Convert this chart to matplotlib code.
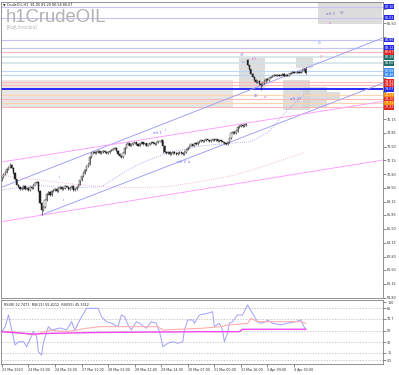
import numpy as np
import matplotlib
matplotlib.use('Agg')
import matplotlib.pyplot as plt
import matplotlib.patches as patches
import matplotlib.transforms as mtransforms

# ---- data ----
# hourly closes, bar 0 .. 183 (gap up on bar 148, Sunday open)
closes = [
    70.5, 70.8, 71.0, 71.3, 71.5, 71.7, 71.4, 70.9,
    70.3, 69.8, 69.6, 69.4, 69.5, 69.7, 69.4, 69.5,
    69.3, 69.6, 69.5, 69.8, 70.0, 70.1, 69.2, 68.0,
    67.3, 67.6, 68.3, 68.9, 69.1, 68.8, 69.2, 69.3,
    69.4, 69.2, 69.5, 69.6, 69.4, 69.5, 69.7, 69.6,
    69.4, 69.5, 69.7, 69.3, 69.4, 69.6, 69.8, 70.2,
    70.6, 70.9, 71.2, 71.6, 71.8, 72.5, 72.9, 73.0,
    72.9, 73.0, 73.1, 72.9, 73.0, 73.1, 73.0, 72.9,
    73.0, 73.1, 73.2, 73.3, 73.4, 73.1, 72.8, 72.6,
    72.5, 72.9, 73.4, 73.7, 73.8, 73.6, 73.7, 73.8,
    73.9, 73.7, 73.6, 73.8, 73.9, 73.7, 73.8, 73.6,
    73.7, 73.8, 73.9, 73.8, 73.7, 73.9, 74.0, 74.0,
    74.1, 73.6, 73.0, 72.9, 73.0, 72.8, 72.9, 73.0,
    72.9, 72.8, 72.9, 73.0, 72.9, 72.8, 73.0, 73.2,
    73.4, 73.6, 73.7, 73.6, 73.8, 73.7, 73.9, 74.0,
    74.1, 74.0, 74.1, 74.2, 74.1, 74.0, 74.1, 74.2,
    74.1, 74.2, 74.0, 74.1, 74.0, 73.9, 73.8, 73.7,
    73.9, 74.3, 74.8, 74.9, 74.8, 75.0, 75.4, 75.5,
    75.6, 75.5, 75.6, 75.7,
    81.4, 81.0, 80.6, 80.3, 80.0, 79.8, 79.9, 79.6,
    79.5, 79.7, 79.9, 80.1, 80.0, 80.2, 80.3, 80.4,
    80.5, 80.4, 80.5, 80.4, 80.5, 80.6, 80.4, 80.5,
    80.4, 80.6, 80.7, 80.8, 80.7, 80.7, 80.8, 80.7,
    80.8, 80.9, 81.05, 80.67,
]
first_open = 70.2
gap_bar = 148
gap_open = 81.9
wick_highs = {5: 71.9, 148: 82.0, 183: 81.20}
wick_lows = {24: 66.8, 97: 72.9, 156: 79.0, 183: 80.58}

# horizontal levels (price, type)
level_prices = [87.10, 86.03, 83.86, 83.12, 82.67, 82.18, 81.60, 80.88,
                80.46, 79.81, 79.49, 79.07, 78.51, 78.10, 77.71, 77.32]
level_types = ['blue', 'blue', 'blue', 'blue', 'red', 'teal', 'teal', 'azure',
               'azure', 'red', 'red', 'boldblue', 'orange', 'red', 'orange', 'red']

# channel lines: (bar0, price0, bar1, price1)
blue_lines = [(0, 69.55, 230, 84.1), (23, 66.8, 230, 79.7)]
pink_lines = [(0, 72.0, 230, 77.9), (0, 66.2, 230, 72.2)]

# moving averages (bar, price)
ma_fast_x = [0, 20, 40, 60, 76, 84, 100, 120, 140, 150, 161, 172, 182]
ma_fast_y = [69.27, 69.76, 69.47, 69.6, 71.22, 71.9, 72.9, 73.56, 73.85, 73.97, 74.94, 77.05, 78.5]
ma_slow_x = [0, 20, 40, 60, 80, 100, 120, 140, 160, 182]
ma_slow_y = [70.7, 70.3, 69.9, 69.6, 69.5, 69.6, 70.1, 70.7, 71.7, 72.9]

# shaded boxes (bar0, bar1, price_low, price_high)
boxes = [(190.5, 229, 85.42, 87.56), (142.9, 158.6, 79.0, 82.11),
         (177.2, 187.5, 81.14, 82.21), (169.4, 185.7, 77.05, 79.97),
         (181.4, 196, 77.35, 79.29), (196, 203.8, 78.03, 78.8)]
band = (-1, 139.3, 77.25, 79.97)

# wave labels (bar, price, text, colour type)
wave_labels = [
    (94, 74.8, 'alt 1', 'b'), (99, 75.1, 'ii', 'b'),
    (108, 72.0, 'alt 2', 'b'), (113, 72.0, 'iv', 'b'),
    (34.5, 70.5, 'i', 'b'), (37.5, 68.3, 'ii', 'b'),
    (144.7, 82.4, '3?', 'b'), (152, 82.0, 'iii?', 'm'), (145.3, 81.7, 'v', 'b'),
    (153.5, 78.4, '4?', 'b'), (158.6, 78.35, 'iv', 'm'),
    (177, 78.1, 'alt 4?', 'b'),
    (191, 83.6, '0', 'b'), (192, 82.24, '0', 's'),
    (198, 86.4, 'alt 3', 'g'), (205, 86.5, '5?', 'g'), (197.7, 85.55, 'v', 'm'),
]

price_ticks = [58.80, 60.15, 61.50, 62.80, 64.15, 65.50, 66.85, 68.15, 69.50, 70.80,
               72.15, 73.50, 74.85, 76.15, 77.50, 78.85, 80.20, 81.50, 82.85, 84.20,
               85.50, 86.85]

time_ticks = [0, 16, 32, 48, 64, 80, 96, 112, 128, 144, 160, 176]
time_labels = ['23 Mar 2023', '24 Mar 03:00', '24 Mar 19:00', '27 Mar 11:00',
               '28 Mar 03:00', '28 Mar 22:00', '29 Mar 14:00', '30 Mar 07:00',
               '31 Mar 00:00', '31 Mar 16:00', '3 Apr 09:00', '4 Apr 02:00']

# RSI lines (bar, value)
rsi8_x = [0, 2, 4, 6, 8, 10, 13, 15, 19, 21, 22, 24, 25, 28, 30, 35, 39, 42, 44, 47,
          51, 55, 58, 60, 63, 66, 70, 72, 74, 76, 78, 81, 83, 87, 90, 93, 95, 97, 100,
          103, 106, 109, 110, 112, 115, 116, 119, 124, 127, 128, 131, 133, 134, 136,
          137, 139, 142, 145, 147, 148, 151, 154, 156, 159, 160, 163, 168, 172, 177,
          180, 182, 183]
rsi8_y = [48.2, 57.1, 77.7, 51.2, 24.8, 30.6, 30.6, 21.8, 48.2, 39.4, 13.0, 7.1, 28.3,
          57.1, 51.2, 54.8, 51.2, 65.9, 51.2, 68.9, 89.5, 89.5, 89.5, 74.7, 65.9, 63.1,
          57.1, 77.7, 74.7, 60.1, 51.2, 65.9, 63.1, 54.2, 65.9, 63.1, 48.2, 21.8, 27.8,
          30.6, 27.8, 30.6, 51.2, 68.9, 68.9, 63.1, 77.7, 80.7, 83.5, 57.1, 63.1, 51.2,
          30.6, 45.4, 63.1, 65.9, 77.7, 77.7, 89.5, 95.3, 80.7, 65.9, 63.1, 65.9, 68.9,
          63.1, 60.1, 63.1, 65.9, 68.9, 57.1, 52.7]
rsi21_x = [0, 7, 19, 29, 39, 51, 59, 79, 94, 97, 120, 132, 136, 148, 150, 154, 180, 183]
rsi21_y = [48.2, 48.2, 42.4, 51.2, 48.2, 54.2, 57.1, 57.1, 57.1, 51.2, 54.2, 57.1, 60.0,
           62.9, 71.7, 65.9, 65.9, 63.1]
rsi55_x = [0, 19, 29, 59, 119, 143, 145, 183]
rsi55_y = [48.2, 44.1, 45.3, 46.9, 48.2, 48.2, 52.5, 52.5]
rsi_levels = [100, 89.5, 70.7, 50, 30, 11.5, -2.5]
rsi_level_labels = ['100', '85', '70.7', '50', '30', '15', '2.5']

# ---- styles ----
line_col = {'blue': '#c4c4f4', 'red': '#ffb8b8', 'teal': '#d0e2e6', 'azure': '#bdd6f4',
            'orange': '#ffd3ad', 'boldblue': '#1a1aff'}
line_lw = {'blue': 0.8, 'red': 0.8, 'teal': 1.1, 'azure': 0.8, 'orange': 0.8, 'boldblue': 1.3}
box_col = {'blue': '#2a2ae6', 'red': '#e52626', 'teal': '#1f6e6e', 'azure': '#3d8ef0',
           'orange': '#ff8c00', 'boldblue': '#2a2ae6'}
txt_col = {'b': '#7474f0', 'm': '#e060e0', 's': '#f08a8a', 'g': '#7878c4'}
small = 2.4

fig = plt.figure(figsize=(3.99, 3.75), dpi=100)
ax = fig.add_axes([1 / 399, 1 - 298 / 375, 382 / 399, 296 / 375])
axr = fig.add_axes([1 / 399, 1 - 364 / 375, 382 / 399, 64 / 375], sharex=ax)

ax.set_xlim(-0.5, 229.6)
ax.set_ylim(58.77, 87.56)

# shaded band + boxes
ax.add_patch(patches.Rectangle((band[0], band[2]), band[1] - band[0], band[3] - band[2],
                               facecolor='#e8e5e5', edgecolor='none', zorder=0))
for b0, b1, p0, p1 in boxes:
    ax.add_patch(patches.Rectangle((b0, p0), b1 - b0, p1 - p0, facecolor='#d2d2d2',
                                   edgecolor='none', alpha=0.75, zorder=1))

# horizontal levels and their price boxes
trans = mtransforms.blended_transform_factory(ax.transAxes, ax.transData)
for p, t in zip(level_prices, level_types):
    ax.axhline(p, color=line_col[t], lw=line_lw[t], zorder=2)
    ax.text(1.004, p, '%.2f' % p, transform=trans, fontsize=2.3, color='white',
            va='center', ha='left', clip_on=False, zorder=6,
            bbox=dict(boxstyle='square,pad=0.08', fc=box_col[t], ec='none'))

# channels
for x0, y0, x1, y1 in blue_lines:
    ax.plot([x0, x1], [y0, y1], color='#9c9cf7', lw=0.65, zorder=3)
for x0, y0, x1, y1 in pink_lines:
    ax.plot([x0, x1], [y0, y1], color='#ff9cff', lw=0.65, zorder=3)

# moving averages
ax.plot(ma_fast_x, ma_fast_y, color='#9a9af5', lw=0.6, ls=(0, (1, 1.5)), zorder=3)
ax.plot(ma_slow_x, ma_slow_y, color='#f5a8dc', lw=0.6, ls=(0, (1, 1.5)), zorder=3)

# candles
c = np.array(closes)
o = np.concatenate([[first_open], c[:-1]])
o[gap_bar] = gap_open
idx = np.arange(len(c))
hi = np.maximum(o, c) + 0.08
lo = np.minimum(o, c) - 0.08
for k, v in wick_highs.items():
    hi[k] = v
for k, v in wick_lows.items():
    lo[k] = v
ax.vlines(idx, lo, hi, color='#202020', lw=0.45, zorder=4)
up = c >= o
ax.bar(idx[up], (c - o)[up], bottom=o[up], width=0.75, color='white',
       edgecolor='#202020', lw=0.3, zorder=5)
ax.bar(idx[~up], (c - o)[~up], bottom=o[~up], width=0.75, color='#202020',
       edgecolor='#202020', lw=0.3, zorder=5)

# wave labels
for bx, py, s, kind in wave_labels:
    ax.text(bx, py, s, fontsize=3.0, color=txt_col[kind], ha='center', va='center', zorder=6)

# titles
ax.text(0.005, 0.997, '\u25bc CrudeOIL,H1  81.05 81.20 80.58 80.67', transform=ax.transAxes,
        fontsize=small, va='top', ha='left', color='#202020')
ax.text(0.013, 0.975, 'h1CrudeOIL', transform=ax.transAxes, fontsize=13.3,
        family='Liberation Sans', color='#b2b2b2', va='top', ha='left')
ax.text(0.015, 0.922, '[RajUnrockia]', transform=ax.transAxes, fontsize=3.6,
        family='Liberation Sans', color='#b8b8b8', va='top', ha='left')

# price axis: labels that sit under a level box are hidden, as in the terminal
ax.yaxis.tick_right()
ax.set_yticks(price_ticks)
tick_txt = []
for t in price_ticks:
    covered = min(abs(t - p) for p in level_prices) < 0.5
    tick_txt.append('' if covered else '%.2f' % t)
ax.set_yticklabels(tick_txt)
ax.tick_params(axis='y', labelsize=small, length=2, width=0.4, pad=1, colors='#303030')
ax.tick_params(axis='x', bottom=False, labelbottom=False)
for sp in ax.spines.values():
    sp.set_color('#808080')
    sp.set_linewidth(0.6)

# RSI panel
axr.set_ylim(-8.7, 104.1)
for lv in rsi_levels[1:]:
    axr.axhline(lv, color='#b4b4b4', lw=0.5, ls=(0, (2, 2)), zorder=1)
axr.plot(rsi8_x, rsi8_y, color='#a0a0f8', lw=0.7, zorder=3)
axr.plot(rsi21_x, rsi21_y, color='#ffadad', lw=0.8, zorder=3)
axr.plot(rsi55_x, rsi55_y, color='#f048f0', lw=1.0, zorder=4)
axr.text(0.008, 0.96, 'RSI(8) 52.7471  RSI(21) 55.4212  RSI(55) 45.3312',
         transform=axr.transAxes, fontsize=small, va='top', ha='left', color='#202020')
axr.yaxis.tick_right()
axr.set_yticks(rsi_levels)
axr.set_yticklabels(rsi_level_labels)
axr.tick_params(axis='y', labelsize=small, length=2, width=0.4, pad=1, colors='#303030')
axr.set_xticks(time_ticks)
axr.set_xticklabels(time_labels, ha='left')
axr.tick_params(axis='x', labelsize=2.3, length=2, width=0.4, pad=1, colors='#303030')
for sp in axr.spines.values():
    sp.set_color('#808080')
    sp.set_linewidth(0.6)

fig.savefig('out.png', dpi=100)
